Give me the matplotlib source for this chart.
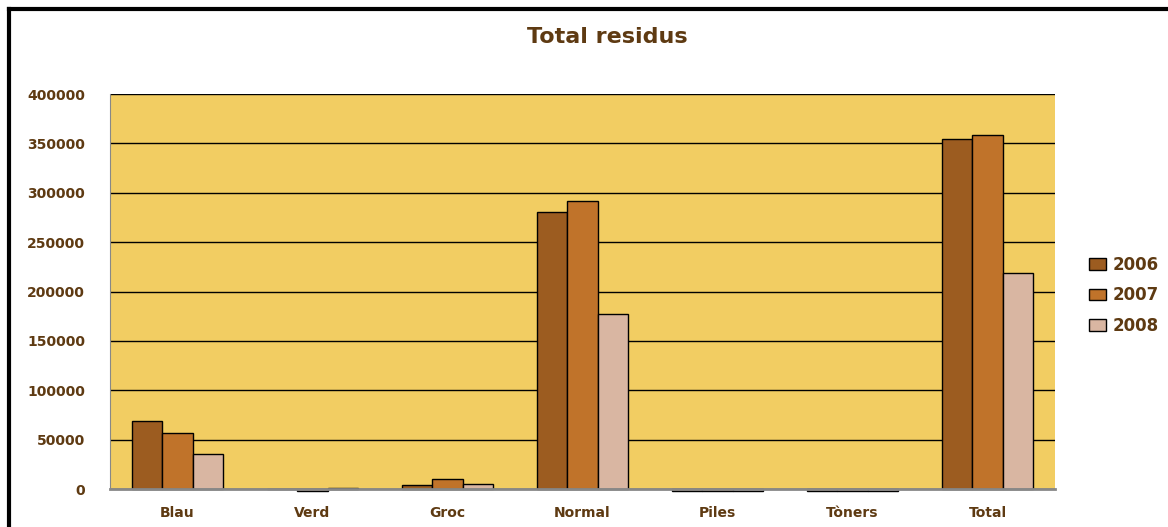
import numpy as np
import matplotlib.pyplot as plt
from matplotlib.lines import Line2D

categories = ['Blau', 'Verd', 'Groc', 'Normal', 'Piles', 'Tòners', 'Total']
years = ['2006', '2007', '2008']
v2006 = [69000, 0, 4000, 281000, -2500, -2500, 354000]
v2007 = [57000, -2500, 10000, 292000, -2500, -2500, 358500]
v2008 = [35000, 1500, 5000, 177000, -2500, -2500, 219000]

colors = ['#9C5C20', '#C0732A', '#D9B6A2']
text_col = '#5E3A12'

fig = plt.figure(figsize=(11.68, 5.27), dpi=100)
ax = fig.add_axes([0.0942, 0.0721, 0.809, 0.7495])
ax.set_facecolor('#F2CD62')

x = np.arange(len(categories))
w = 0.226
for i, (vals, yr) in enumerate(zip([v2006, v2007, v2008], years)):
    ax.bar(x + (i - 1) * w, vals, w, color=colors[i], edgecolor='black',
           linewidth=1, label=yr, zorder=3, clip_on=False)

ax.set_xlim(-0.5, len(categories) - 0.5)
ax.set_ylim(0, 400000)
ax.set_yticks(np.arange(0, 400001, 50000))
ax.set_yticklabels([str(v) for v in range(0, 400001, 50000)])
ax.set_xticks(x)
ax.set_xticklabels(categories)
ax.yaxis.grid(True, color='black', linewidth=1, zorder=1)
ax.set_axisbelow(True)
ax.tick_params(length=0, labelsize=10, labelcolor=text_col)
ax.tick_params(axis='y', pad=18)
ax.tick_params(axis='x', pad=12)
for lab in ax.get_xticklabels() + ax.get_yticklabels():
    lab.set_fontweight('bold')

ax.spines['top'].set_visible(False)
ax.spines['right'].set_visible(False)
ax.spines['left'].set_color('#888888')
ax.spines['bottom'].set_color('#888888')
ax.spines['bottom'].set_linewidth(2)
ax.spines['bottom'].set_zorder(4)

fig.text(0.52, 0.93, 'Total residus', ha='center', va='center',
         fontsize=16, fontweight='bold', color=text_col)

leg = ax.legend(loc='center left', bbox_to_anchor=(1.02, 0.49), frameon=False,
                prop={'weight': 'bold', 'size': 12}, labelspacing=0.75,
                handlelength=1.0, handleheight=0.7, handletextpad=0.4)
for t in leg.get_texts():
    t.set_color(text_col)

# chart frame (left and top edges)
fig.add_artist(Line2D([0.008, 0.008], [0.0, 0.982], color='black', linewidth=3,
                      transform=fig.transFigure))
fig.add_artist(Line2D([0.008, 1.0], [0.982, 0.982], color='black', linewidth=3,
                      transform=fig.transFigure))

fig.savefig('out.png', dpi=100)
